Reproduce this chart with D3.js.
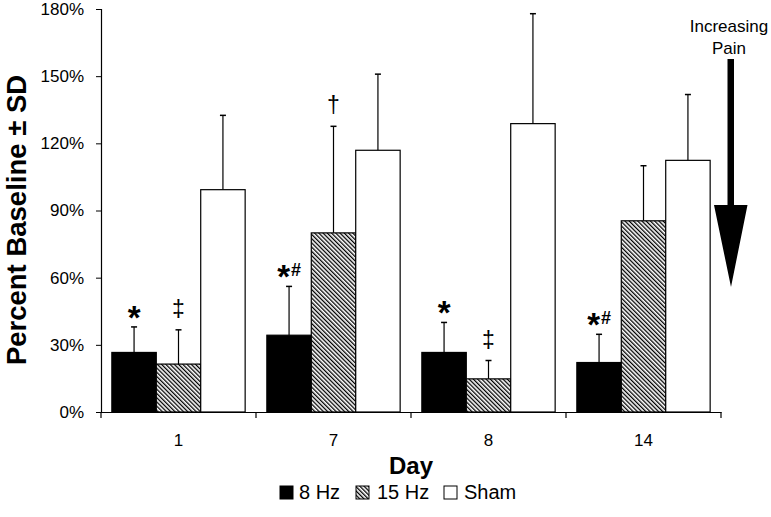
<!DOCTYPE html>
<html><head><meta charset="utf-8">
<script src="https://cdn.jsdelivr.net/npm/d3@7"></script>
<style>
body{margin:0;background:#fff}
svg{display:block}
text{font-family:Arial,"Liberation Sans",sans-serif;fill:#000}
</style>
</head><body>
<svg id="c" width="771" height="517"></svg>
<script>
// ---- data ----
const days = ["1", "7", "8", "14"];
const seriesNames = ["8 Hz", "15 Hz", "Sham"];
const hz8 = [26.6, 34.3, 26.6, 22.1];
const hz8SD = [11.4, 21.8, 13.4, 12.6];
const hz15 = [21.4, 80.0, 14.8, 85.4];
const hz15SD = [15.3, 47.6, 8.2, 24.6];
const sham = [99.3, 116.9, 128.8, 112.4];
const shamSD = [33.2, 34.0, 49.1, 29.4];
const yTicks = [0, 30, 60, 90, 120, 150, 180];
// annotation: day, series, main symbol, superscript
const annDay = ["1", "1", "7", "7", "8", "8", "14"];
const annSeries = ["8 Hz", "15 Hz", "8 Hz", "15 Hz", "8 Hz", "15 Hz", "8 Hz"];
const annMain = ["*", "‡", "*", "†", "*", "‡", "*"];
const annSup = ["", "", "#", "", "", "", "#"];

(function () {
const means = {"8 Hz": hz8, "15 Hz": hz15, "Sham": sham};
const sds = {"8 Hz": hz8SD, "15 Hz": hz15SD, "Sham": shamSD};

const svg = d3.select("#c");
const mLeft = 101, mRight = 721, mTop = 9, mBottom = 412;
const FONT = "Arial, 'Liberation Sans', sans-serif";

const defs = svg.append("defs");
const pat = defs.append("pattern").attr("id", "hatch")
  .attr("patternUnits", "userSpaceOnUse").attr("width", 3).attr("height", 3)
  .attr("patternTransform", "rotate(-45)");
pat.append("rect").attr("width", 3).attr("height", 3).attr("fill", "#fff");
pat.append("rect").attr("width", 1.3).attr("height", 3).attr("fill", "#000");

const fills = {"8 Hz": "#000", "15 Hz": "url(#hatch)", "Sham": "#fff"};

const x = d3.scaleBand().domain(days).range([mLeft, mRight]).paddingInner(0.14).paddingOuter(0.07);
const xs = d3.scaleBand().domain(seriesNames).range([0, x.bandwidth()]).padding(0);
const y = d3.scaleLinear().domain([0, 180]).range([mBottom, mTop]);

const rows = [];
days.forEach((d, i) => seriesNames.forEach(s => rows.push({day: d, s, v: means[s][i], sd: sds[s][i]})));

// error bars (behind)
const eb = svg.append("g");
rows.forEach(r => {
  const cx = x(r.day) + xs(r.s) + xs.bandwidth() / 2;
  eb.append("line").attr("x1", cx).attr("x2", cx).attr("y1", y(r.v)).attr("y2", y(r.v + r.sd))
    .attr("stroke", "#000").attr("stroke-width", 1.2);
  eb.append("line").attr("x1", cx - 3).attr("x2", cx + 3).attr("y1", y(r.v + r.sd)).attr("y2", y(r.v + r.sd))
    .attr("stroke", "#000").attr("stroke-width", 1.5);
});

svg.append("g").selectAll("rect").data(rows).join("rect")
  .attr("x", r => x(r.day) + xs(r.s))
  .attr("width", xs.bandwidth())
  .attr("y", r => y(r.v))
  .attr("height", r => y(0) - y(r.v))
  .attr("fill", r => fills[r.s])
  .attr("stroke", "#000").attr("stroke-width", 1.2);

// axes
const ya = svg.append("g").attr("transform", `translate(${mLeft},0)`)
  .call(d3.axisLeft(y).tickValues(yTicks).tickFormat(d => d + "%").tickSize(5).tickPadding(12));
ya.select(".domain").attr("stroke", "#000").attr("stroke-width", 1.2);
ya.selectAll(".tick line").attr("stroke", "#000");
ya.selectAll("text").attr("font-size", 17).attr("font-family", FONT).attr("fill", "#000");

const xa = svg.append("g").attr("transform", `translate(0,${mBottom})`)
  .call(d3.axisBottom(x).tickSize(0).tickPadding(22));
xa.select(".domain").attr("stroke", "#000").attr("stroke-width", 1.2);
xa.selectAll("text").attr("font-size", 17).attr("font-family", FONT).attr("fill", "#000");
const bounds = days.map(d => x(d) - x.step() * 0.07).concat([mRight]);
svg.append("g").selectAll("line").data(bounds).join("line")
  .attr("x1", d => d).attr("x2", d => d).attr("y1", mBottom).attr("y2", mBottom + 6)
  .attr("stroke", "#000").attr("stroke-width", 1.2);

// axis titles
svg.append("text").attr("transform", `translate(26,220) rotate(-90)`)
  .attr("text-anchor", "middle").attr("font-size", 27.5).attr("font-weight", "bold")
  .text("Percent Baseline ± SD");
svg.append("text").attr("x", (mLeft + mRight) / 2).attr("y", 474)
  .attr("text-anchor", "middle").attr("font-size", 24).attr("font-weight", "bold").text("Day");

// annotations
annDay.forEach((d, i) => {
  const s = annSeries[i];
  const idx = days.indexOf(d);
  const cx = x(d) + xs(s) + xs.bandwidth() / 2;
  const et = y(means[s][idx] + sds[s][idx]);
  if (annMain[i] === "*") {
    const t = svg.append("text").attr("x", cx).attr("y", et + 2).attr("text-anchor", "middle").attr("fill", "#000");
    t.append("tspan").attr("font-size", 33).attr("font-weight", "bold").text("*");
    if (annSup[i]) t.append("tspan").attr("font-size", 18).attr("font-weight", "bold")
      .attr("dy", -12).attr("dx", 1).attr("fill", "#000").text(annSup[i]);
  } else {
    svg.append("text").attr("x", cx).attr("y", et - 13).attr("text-anchor", "middle")
      .attr("font-size", 23).text(annMain[i]);
  }
});

// increasing pain arrow
svg.append("text").attr("x", 729).attr("y", 32).attr("text-anchor", "middle").attr("font-size", 17).text("Increasing");
svg.append("text").attr("x", 729).attr("y", 54).attr("text-anchor", "middle").attr("font-size", 17).text("Pain");
svg.append("path").attr("d", "M727.5,59 L734,59 L734,205 L747.5,205 L731,287 L714,205 L727.5,205 Z").attr("fill", "#000");

// legend
const lg = svg.append("g");
const lx = [280, 356, 444], tx = [299, 377, 464];
seriesNames.forEach((s, i) => {
  lg.append("rect").attr("x", lx[i]).attr("y", 486).attr("width", 13).attr("height", 13)
    .attr("fill", fills[s]).attr("stroke", "#000").attr("stroke-width", 1);
  lg.append("text").attr("x", tx[i]).attr("y", 499).attr("font-size", 20).text(s);
});
})();
</script>
</body></html>
